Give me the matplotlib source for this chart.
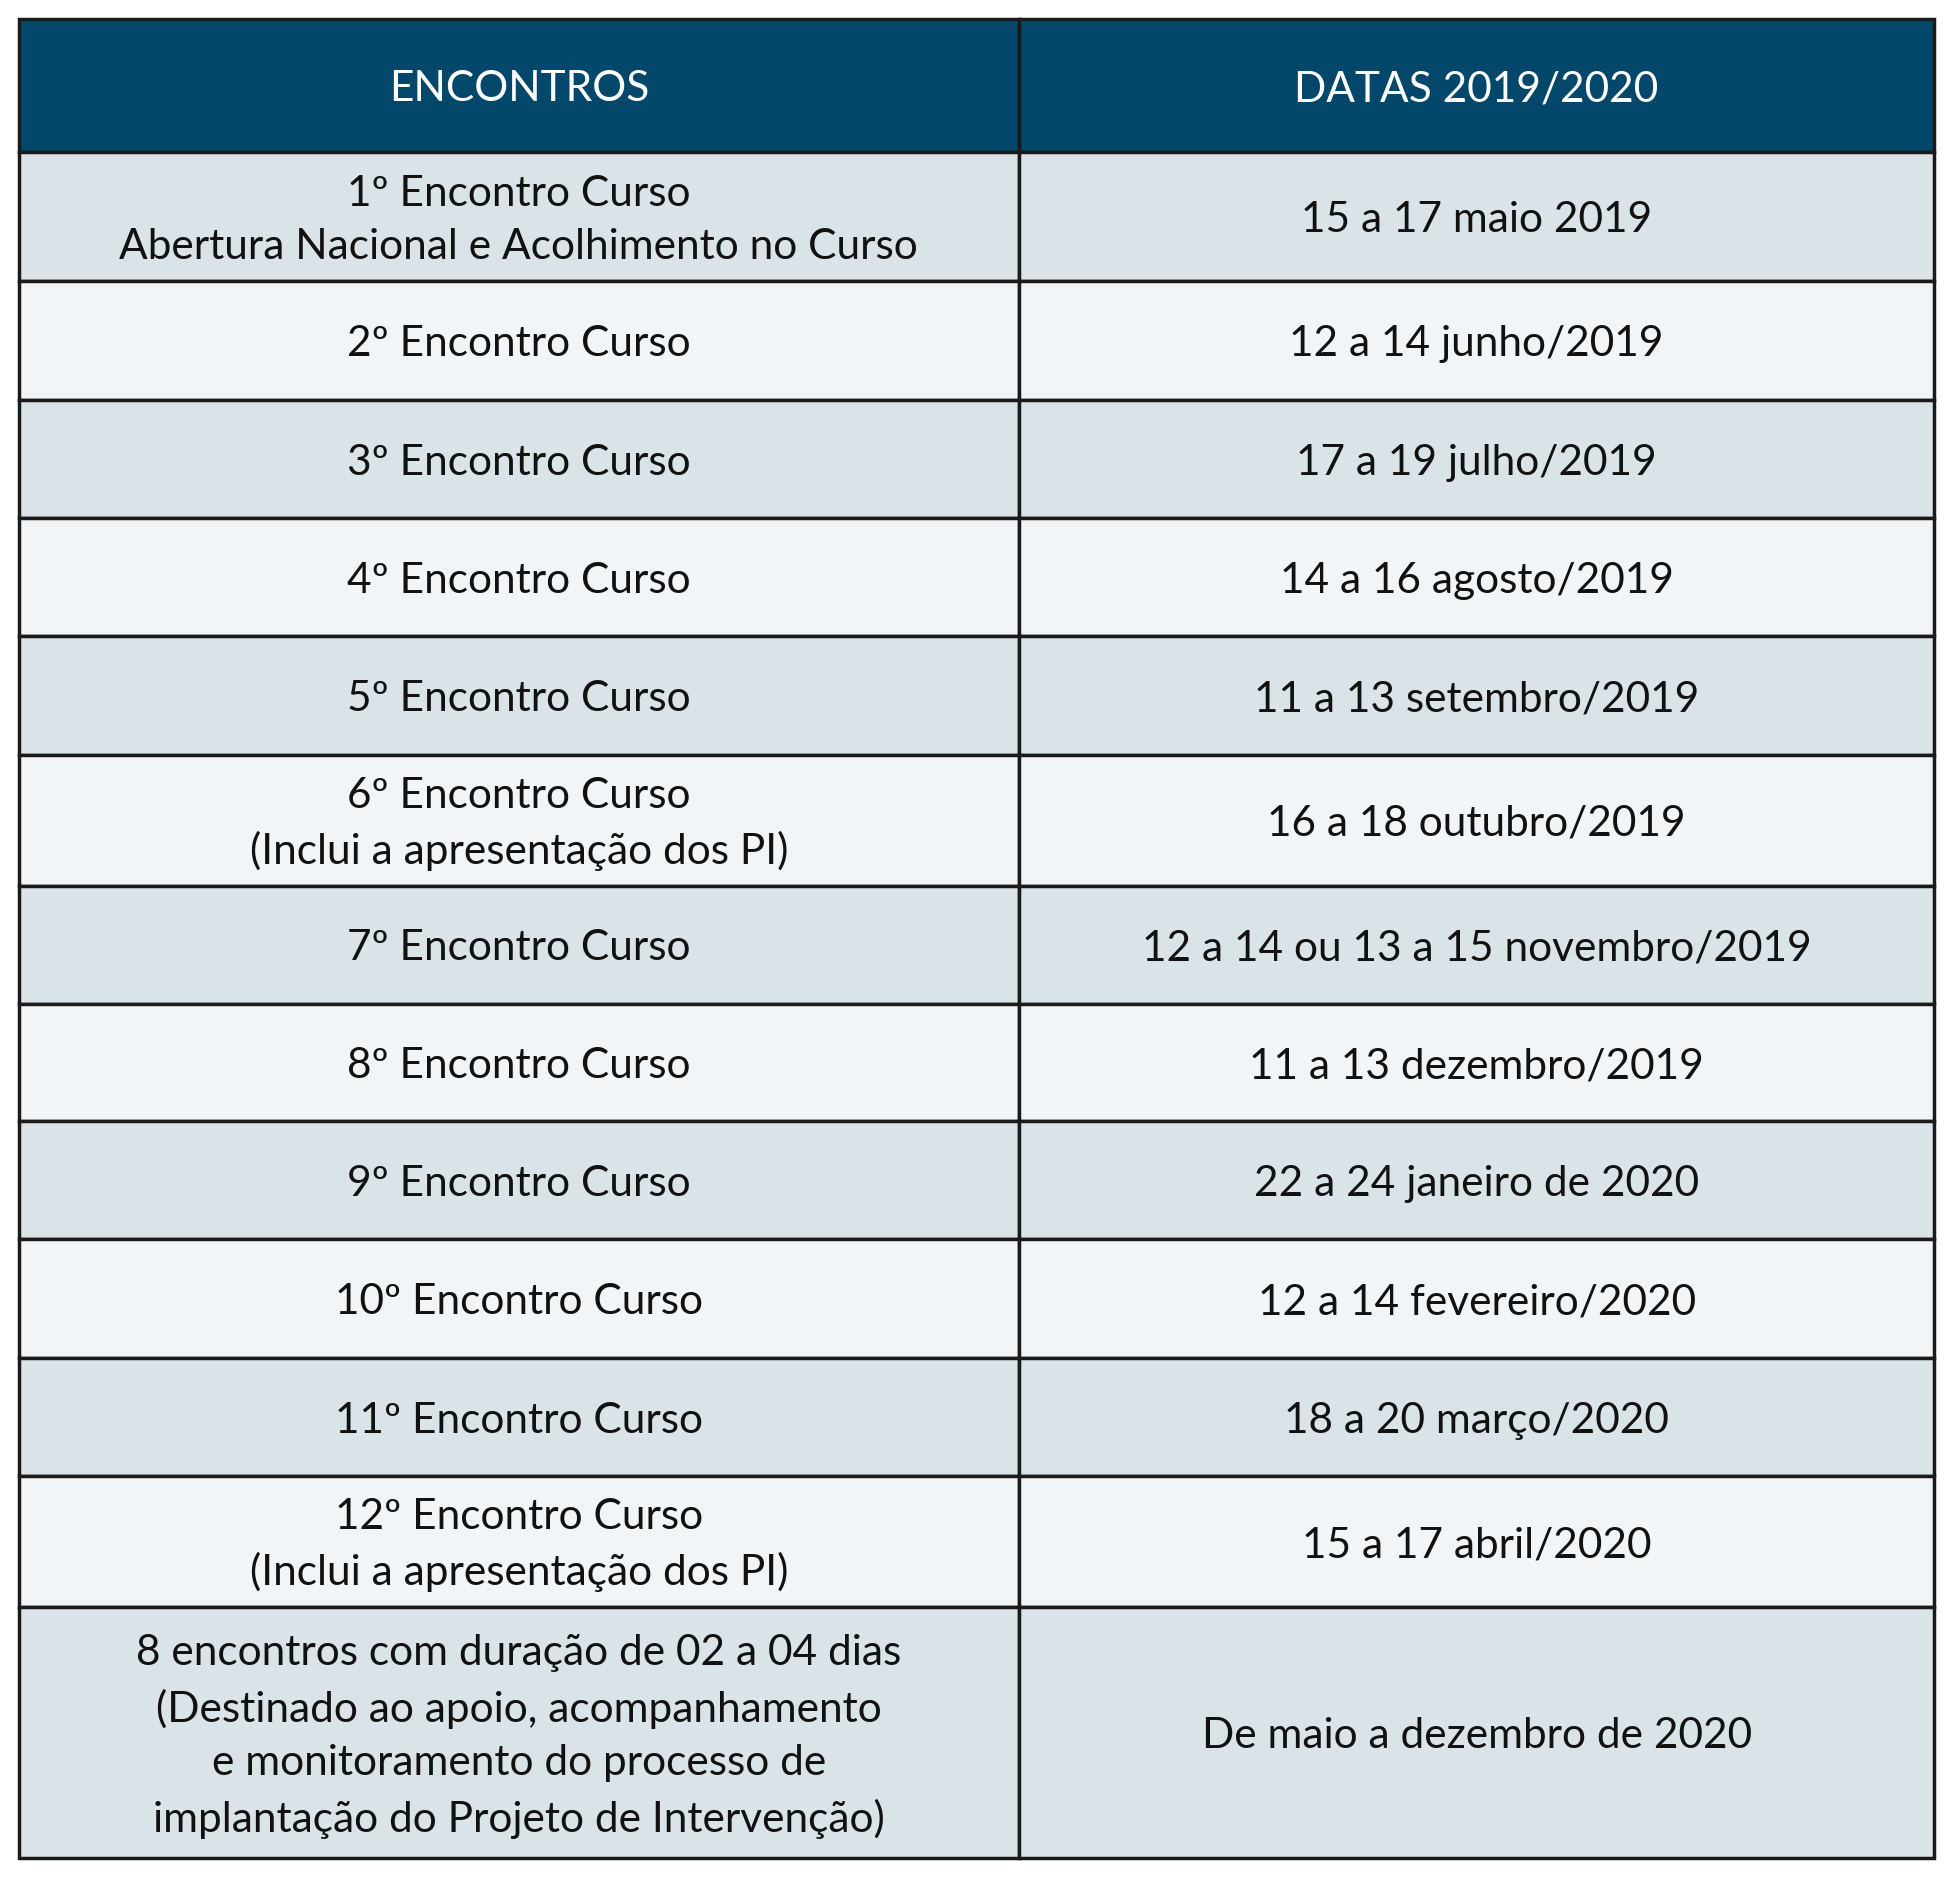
import matplotlib

matplotlib.use("Agg")

import matplotlib.pyplot as plt
from matplotlib.patches import Rectangle

HEADERS = ["ENCONTROS", "DATAS 2019/2020"]
ENCONTROS = [
    "1º Encontro Curso\nAbertura Nacional e Acolhimento no Curso",
    "2º Encontro Curso",
    "3º Encontro Curso",
    "4º Encontro Curso",
    "5º Encontro Curso",
    "6º Encontro Curso\n(Inclui a apresentação dos PI)",
    "7º Encontro Curso",
    "8º Encontro Curso",
    "9º Encontro Curso",
    "10º Encontro Curso",
    "11º Encontro Curso",
    "12º Encontro Curso\n(Inclui a apresentação dos PI)",
    "8 encontros com duração de 02 a 04 dias\n(Destinado ao apoio, acompanhamento\ne monitoramento do processo de\nimplantação do Projeto de Intervenção)",
]
DATAS = [
    "15 a 17 maio 2019",
    "12 a 14 junho/2019",
    "17 a 19 julho/2019",
    "14 a 16 agosto/2019",
    "11 a 13 setembro/2019",
    "16 a 18 outubro/2019",
    "12 a 14 ou 13 a 15 novembro/2019",
    "11 a 13 dezembro/2019",
    "22 a 24 janeiro de 2020",
    "12 a 14 fevereiro/2020",
    "18 a 20 março/2020",
    "15 a 17 abril/2020",
    "De maio a dezembro de 2020",
]
# row boundaries (reference layout units, top to bottom)
ROW_EDGES = [15, 122, 226, 321, 416, 511, 606, 711, 806, 900, 995, 1090, 1185, 1290, 1492]
COL_EDGES = [15, 818, 1553]

HEADER_BG = "#03476A"
ROW_DARK = "#D9E3E8"
ROW_LIGHT = "#F2F5F8"
FONT = "Lato"

fig = plt.figure(figsize=(19.53, 18.77), dpi=100)
ax = fig.add_axes([0, 0, 1, 1])
ax.set_xlim(0, 1568)
ax.set_ylim(1507, 0)
ax.axis("off")

rows = [HEADERS] + [[e, d] for e, d in zip(ENCONTROS, DATAS)]
for i, row in enumerate(rows):
    y0, y1 = ROW_EDGES[i], ROW_EDGES[i + 1]
    if i == 0:
        bg, fg = HEADER_BG, "white"
    else:
        bg, fg = (ROW_DARK if i % 2 == 1 else ROW_LIGHT), "#111111"
    for j, text in enumerate(row):
        x0, x1 = COL_EDGES[j], COL_EDGES[j + 1]
        ax.add_patch(Rectangle((x0, y0), x1 - x0, y1 - y0, facecolor=bg,
                               edgecolor="#1a1a1a", linewidth=2.5))
        ax.text((x0 + x1) / 2, (y0 + y1) / 2 + 3, text, ha="center", va="center",
                fontsize=30.5, color=fg, family=FONT, linespacing=1.5)

fig.savefig("out.png", dpi=100)
